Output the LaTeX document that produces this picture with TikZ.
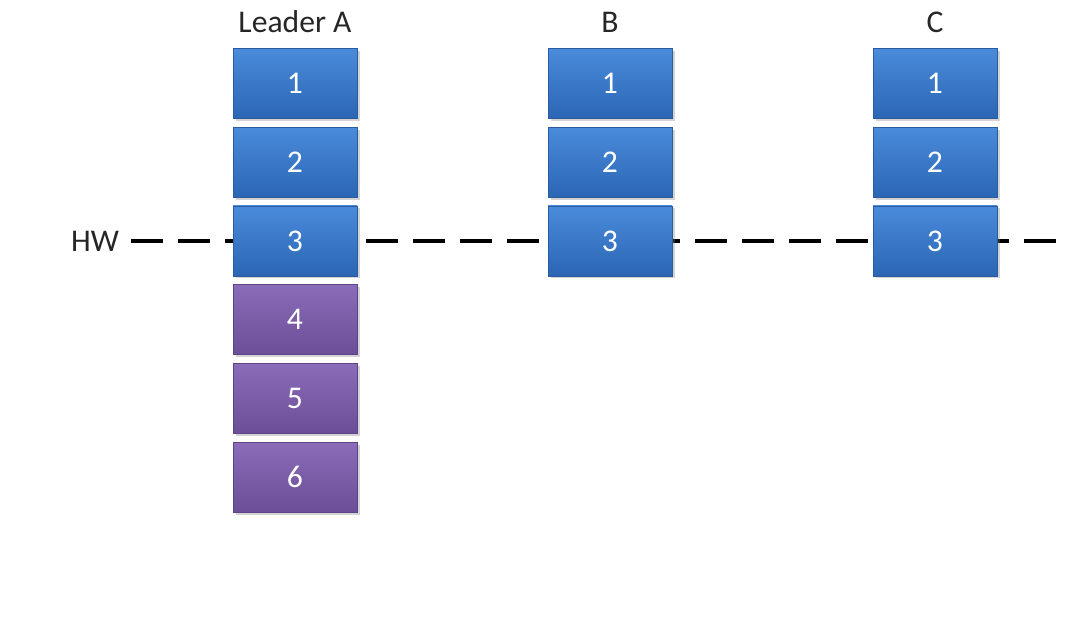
\documentclass[tikz,border=0pt]{standalone}
\usepackage{fontspec}
\setmainfont{Carlito}
\usetikzlibrary{positioning,shadows}

\definecolor{bluetop}{HTML}{4A8BDB}
\definecolor{bluebot}{HTML}{2B66B4}
\definecolor{blueedge}{HTML}{2A5C9E}
\definecolor{purptop}{HTML}{8A6CB8}
\definecolor{purpbot}{HTML}{6C4D98}
\definecolor{purpedge}{HTML}{5E4386}

\begin{document}
\begin{tikzpicture}
\tikzstyle{every node}=[font=\fontsize{18}{21}\selectfont,text=black!85]
\tikzstyle{blk}=[rectangle,minimum width=2.48cm,minimum height=1.4cm,text=white,
  drop shadow={shadow xshift=0.05cm,shadow yshift=-0.05cm,opacity=0.35}]
\tikzstyle{bluebox}=[blk,top color=bluetop,bottom color=bluebot,draw=blueedge]
\tikzstyle{purpbox}=[blk,top color=purptop,bottom color=purpbot,draw=purpedge]
\tikzstyle{hwline}=[line width=2.3pt,dash pattern=on 0.64cm off 0.3cm]
\useasboundingbox (0,0) rectangle (21.56,12.36);

\node (hw) at (1.9,7.54) {HW};
\coordinate (hwend) at (21.26,7.54);
\draw[hwline] (hw.east) ++(0.12,0) coordinate (hwstart) -- (hwend);

\node[bluebox] (a1) at (5.9,10.69) {1};
\node[bluebox,below=0.16cm of a1] (a2) {2};
\node[bluebox,below=0.16cm of a2] (a3) {3};
\node[purpbox,below=0.16cm of a3] (a4) {4};
\node[purpbox,below=0.16cm of a4] (a5) {5};
\node[purpbox,below=0.16cm of a5] (a6) {6};

\node[bluebox] (b1) at (12.2,10.69) {1};
\node[bluebox,below=0.16cm of b1] (b2) {2};
\node[bluebox,below=0.16cm of b2] (b3) {3};

\node[bluebox] (c1) at (18.7,10.69) {1};
\node[bluebox,below=0.16cm of c1] (c2) {2};
\node[bluebox,below=0.16cm of c2] (c3) {3};

\node (leadera) at (5.9,11.92) {Leader A};
\node (leaderb) at (12.2,11.92) {B};
\node (leaderc) at (18.7,11.92) {C};
\end{tikzpicture}
\end{document}
